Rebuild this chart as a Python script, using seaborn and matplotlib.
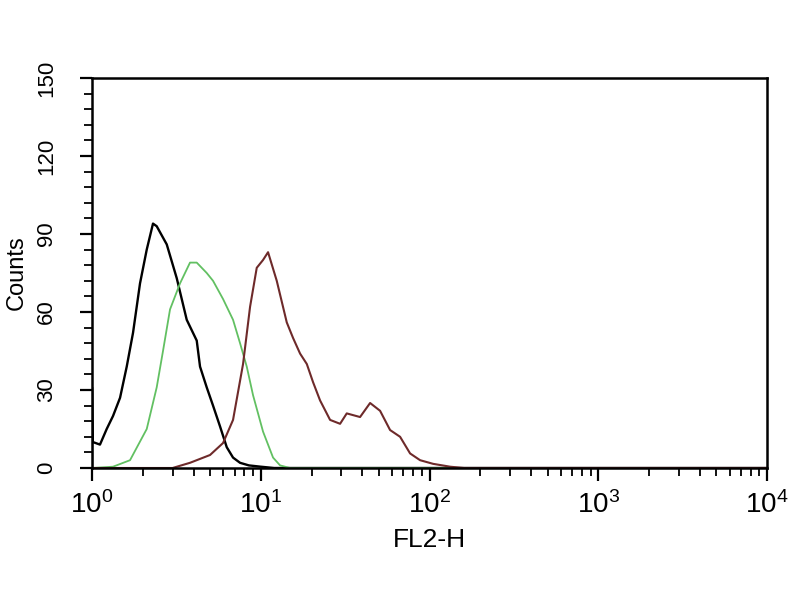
import numpy as np
import pandas as pd
import seaborn as sns
import matplotlib
matplotlib.use("Agg")
import matplotlib.pyplot as plt
from matplotlib.ticker import MultipleLocator, LogLocator, NullFormatter

# FL2-H histogram traces
black_x = [1.0, 1.0, 1.01, 1.115, 1.222, 1.332, 1.466, 1.606, 1.75, 1.925, 2.11, 2.298, 2.417,
           2.772, 3.177, 3.641, 4.173, 4.365, 4.783, 5.212, 5.734, 6.284, 6.848, 7.535, 8.5,
           10.0, 12.0, 10000.0]
black_y = [0, 31, 10, 9, 15, 20, 27, 39, 52, 71, 84, 94, 93,
           86, 73, 57, 49, 39, 31, 24, 16, 8, 4, 2, 1,
           0.5, 0, 0]

green_x = [1.0, 1.332, 1.68, 2.11, 2.417, 2.634, 2.899, 3.322, 3.807, 4.173, 4.783, 5.212,
           5.974, 6.848, 7.535, 8.256, 8.996, 10.31, 11.82, 13.01, 14.9, 10000.0]
green_y = [0, 0.5, 3, 15, 31, 45, 61, 71, 79, 79, 75, 72,
           65, 57, 48, 39, 28, 14, 4, 1, 0, 0]

red_x = [1.0, 3.0, 3.807, 5.003, 5.974, 6.848, 7.85, 8.638, 9.462, 10.31, 11.04, 12.43,
         14.25, 15.53, 17.09, 18.73, 20.40, 22.44, 25.73, 29.49, 32.30, 38.73, 44.41,
         50.89, 58.33, 66.87, 76.63, 87.83, 104.9, 132.3, 160.0, 10000.0]
red_y = [0, 0, 2, 5, 9.6, 18.5, 40, 62, 77, 80, 83, 72,
         56, 50, 44, 40, 33, 26, 18.5, 17, 21, 19.6, 25,
         22, 14.6, 12, 5.6, 3, 1.6, 0.5, 0, 0]

y_ticks = [0, 30, 60, 90, 120, 150]

sns.set_style("ticks")
plt.rcParams['font.family'] = ['Liberation Sans', 'DejaVu Sans']
plt.rcParams['mathtext.fontset'] = 'custom'
plt.rcParams['mathtext.rm'] = 'Liberation Sans'
plt.rcParams['text.color'] = 'black'
plt.rcParams['axes.labelcolor'] = 'black'
plt.rcParams['xtick.color'] = 'black'
plt.rcParams['ytick.color'] = 'black'

fig = plt.figure(figsize=(8, 6), dpi=100)
ax = fig.add_axes([0.115, 0.22, 0.844, 0.65])

sns.lineplot(x=black_x, y=black_y, sort=False, estimator=None, color="black", linewidth=1.7, ax=ax)
sns.lineplot(x=green_x, y=green_y, sort=False, estimator=None, color="#62c062", linewidth=1.3, ax=ax)
sns.lineplot(x=red_x, y=red_y, sort=False, estimator=None, color="#6e2a2a", linewidth=1.5, ax=ax)

ax.set_xscale("log")
ax.set_xlim(1, 10000)
ax.set_ylim(0, 150)
ax.set_yticks(y_ticks)
ax.yaxis.set_minor_locator(MultipleLocator(6))
ax.xaxis.set_minor_locator(LogLocator(base=10, subs=np.arange(2, 10)))
ax.xaxis.set_minor_formatter(NullFormatter())

for side in ["top", "right", "bottom", "left"]:
    ax.spines[side].set_visible(True)
    ax.spines[side].set_linewidth(1.8)
    ax.spines[side].set_color("black")

ax.tick_params(axis="both", which="major", length=9, width=1.6, direction="out",
               colors="black", labelcolor="black")
ax.tick_params(axis="both", which="minor", length=6, width=1.3, direction="out", colors="black")
ax.tick_params(axis="y", labelrotation=90, pad=16, labelsize=16)
for lab in ax.get_yticklabels():
    lab.set_va("center")
ax.tick_params(axis="x", pad=8, labelsize=20)

ax.set_xlabel("FL2-H", fontsize=19, labelpad=6, color="black")
ax.set_ylabel("Counts", fontsize=17, labelpad=6, color="black")

fig.savefig("out.png", dpi=100)
